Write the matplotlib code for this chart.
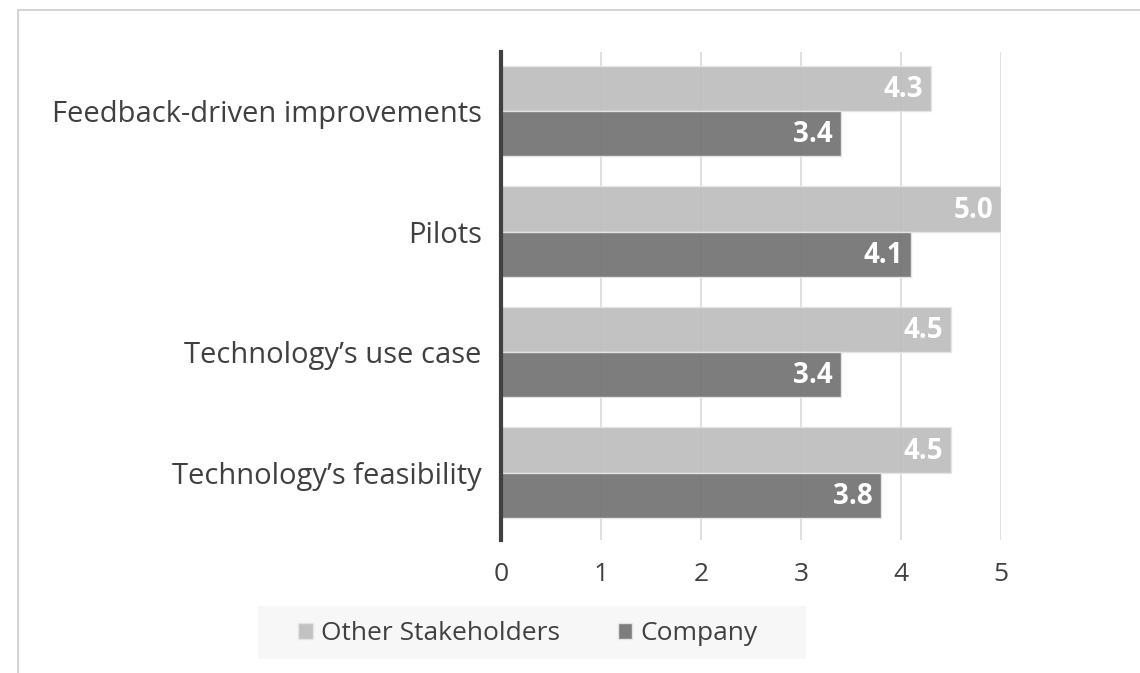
import matplotlib.pyplot as plt
from matplotlib.lines import Line2D
from matplotlib.patches import Rectangle

# Data
categories = ["Feedback-driven improvements", "Pilots",
              "Technology\u2019s use case", "Technology\u2019s feasibility"]
other_stakeholders = [4.3, 5.0, 4.5, 4.5]
company = [3.4, 4.1, 3.4, 3.8]
series_names = ["Other Stakeholders", "Company"]

plt.rcParams['font.family'] = ['Open Sans', 'DejaVu Sans']
text_color = '#404040'

fig = plt.figure(figsize=(11.4, 6.73), dpi=100)
ax = fig.add_axes([501 / 1140, 1 - 540 / 673, 500 / 1140, 488 / 673])

# outer frame (cropped chart border)
fig.add_artist(Line2D([18 / 1140, 18 / 1140], [0, 1 - 10 / 673],
                      transform=fig.transFigure, color='#cccccc', lw=1.2))
fig.add_artist(Line2D([18 / 1140, 1], [1 - 10 / 673, 1 - 10 / 673],
                      transform=fig.transFigure, color='#cccccc', lw=1.2))

y = list(range(len(categories)))
h = 0.375
b1 = ax.barh([v - h / 2 for v in y], other_stakeholders, height=h,
             color='#bfbfbf', edgecolor='#e6e6e6', linewidth=1, alpha=0.95,
             label=series_names[0], zorder=2)
b2 = ax.barh([v + h / 2 for v in y], company, height=h,
             color='#767676', edgecolor='#e6e6e6', linewidth=1, alpha=0.95,
             label=series_names[1], zorder=2)

for bars, vals in [(b1, other_stakeholders), (b2, company)]:
    for bar, v in zip(bars, vals):
        ax.text(v - 0.08, bar.get_y() + bar.get_height() / 2 + 0.01, f"{v:.1f}",
                ha='right', va='center', color='white', fontsize=20,
                fontweight='bold', zorder=3)

ax.set_xlim(0, 5)
ax.set_ylim(3.56, -0.49)
ax.set_xticks(range(6))
ax.set_yticks(y)
ax.set_yticklabels(categories)
ax.tick_params(axis='y', length=0, pad=14, labelsize=21, labelcolor=text_color)
ax.tick_params(axis='x', length=0, pad=16, labelsize=19, labelcolor=text_color)
ax.grid(axis='x', color='#d9d9d9', linewidth=1.2, zorder=0)
ax.set_axisbelow(True)
for s in ['top', 'right', 'bottom']:
    ax.spines[s].set_visible(False)
ax.spines['left'].set_color('#404040')
ax.spines['left'].set_linewidth(3)
ax.spines['left'].set_zorder(4)

# legend background box
fig.add_artist(Rectangle((258 / 1140, 1 - 659 / 673), 548 / 1140, 53 / 673,
                         transform=fig.transFigure, facecolor='#f7f7f7',
                         edgecolor='none', zorder=0))
leg = fig.legend(handles=[b1, b2], loc='center', bbox_to_anchor=(528 / 1140, 1 - 634 / 673),
                 ncol=2, frameon=False, fontsize=19, handlelength=0.55, handleheight=0.55,
                 handletextpad=0.3, columnspacing=2.2, borderpad=0, borderaxespad=0)
for t in leg.get_texts():
    t.set_color(text_color)

fig.savefig('out.png', dpi=100)
